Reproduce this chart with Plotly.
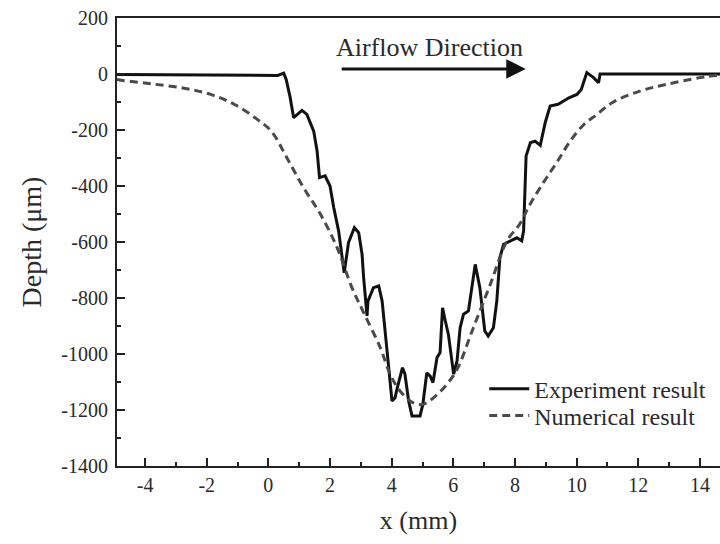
import plotly.graph_objects as go

# ---- data ----
exp_x = [-4.91, 0.0, 0.3, 0.5, 0.58, 0.7, 0.82, 1.09, 1.25, 1.47, 1.58, 1.66, 1.84, 2.0, 2.12,
         2.28, 2.38, 2.46, 2.6, 2.79, 2.93, 3.04, 3.09, 3.2, 3.23, 3.41, 3.58, 3.69, 3.85, 4.01,
         4.11, 4.17, 4.35, 4.43, 4.55, 4.66, 4.92, 5.01, 5.14, 5.25, 5.34, 5.47, 5.57, 5.65,
         5.74, 5.84, 6.01, 6.12, 6.22, 6.33, 6.49, 6.71, 6.86, 7.02, 7.13, 7.3, 7.41, 7.51,
         7.63, 7.84, 8.06, 8.22, 8.28, 8.36, 8.5, 8.65, 8.82, 8.98, 9.14, 9.4, 9.75, 10.01,
         10.15, 10.33, 10.55, 10.71, 10.76, 15.0]
exp_y = [-2, -3, -5, 3, -20, -80, -156, -130, -144, -204, -275, -370, -364, -400, -477,
         -561, -644, -710, -602, -549, -567, -644, -727, -864, -811, -763, -757, -811, -989, -1168,
         -1156, -1126, -1049, -1072, -1168, -1221, -1221, -1180, -1067, -1079, -1102, -1013, -995, -835,
         -882, -930, -1072, -1025, -906, -858, -846, -680, -763, -918, -936, -906, -811, -656,
         -608, -596, -585, -596, -560, -293, -245, -240, -255, -174, -114, -108, -85, -73,
         -55, 5, -13, -31, 0, 0]

num_x = [-4.91, -4.73, -3.81, -2.73, -1.87, -1.11, -0.36, 0.1, 0.6, 1.14, 1.69, 2.23, 2.7,
         3.09, 3.63, 3.95, 4.27, 4.71, 5.0, 5.36, 5.79, 6.12, 6.65, 7.2, 7.74, 8.16, 8.49,
         8.92, 9.36, 9.79, 10.22, 10.65, 11.19, 12.05, 12.92, 14.0, 14.54, 15.0]
num_y = [-20, -23, -35, -51, -73, -108, -162, -205, -299, -406, -501, -620, -760,
         -852, -977, -1072, -1132, -1175, -1180, -1156, -1108, -1055, -906, -751, -596, -535, -465,
         -388, -315, -240, -182, -145, -100, -61, -37, -13, -5, -3]

x_ticks = [-4, -2, 0, 2, 4, 6, 8, 10, 12, 14]
x_tick_text = ["-4", "-2", "0", "2", "4", "6", "8", "10", "12", "14"]
y_ticks = [200, 0, -200, -400, -600, -800, -1000, -1200, -1400]
y_tick_text = ["200", "0", "-200", "-400", "-600", "-800", "-1000", "-1200", "-1400"]

FONT = "Liberation Serif, Times New Roman, serif"
TXT = "#2a2a2a"

fig = go.Figure()
fig.add_trace(go.Scatter(x=exp_x, y=exp_y, mode="lines", name="Experiment result",
                         legend="legend",
                         line=dict(color="#111111", width=3)))
fig.add_trace(go.Scatter(x=num_x, y=num_y, mode="lines", name="Numerical result",
                         legend="legend2",
                         line=dict(color="#4a4a4a", width=3, dash="8px,5px", shape="spline")))

fig.add_annotation(x=8.35, y=18, ax=2.33, ay=18, xref="x", yref="y", axref="x", ayref="y",
                   text="", showarrow=True, arrowhead=2, arrowsize=1.3, arrowwidth=3,
                   arrowcolor="#111111")
fig.add_annotation(x=5.22, y=96, xref="x", yref="y", text="Airflow Direction",
                   showarrow=False, font=dict(family=FONT, size=26, color=TXT))

axis_common = dict(showline=True, linewidth=2, linecolor="#222222", ticks="inside",
                   tickwidth=2, tickcolor="#222222", ticklen=8, showgrid=False,
                   zeroline=False, tickfont=dict(family=FONT, size=20, color=TXT))

fig.update_xaxes(range=[-4.91, 14.65], tickvals=x_ticks, ticktext=x_tick_text,
                 mirror=True,
                 minor=dict(dtick=1, tick0=0, ticks="inside", ticklen=4, tickwidth=2,
                            tickcolor="#222222"),
                 title=dict(text="x (mm)", font=dict(family=FONT, size=26, color=TXT), standoff=16),
                 **axis_common)
fig.update_yaxes(range=[-1400, 200], tickvals=y_ticks, ticktext=y_tick_text,
                 ticklabelstandoff=3,
                 minor=dict(dtick=100, tick0=0, ticks="inside", ticklen=4, tickwidth=2,
                            tickcolor="#222222"),
                 title=dict(text="Depth (μm)", font=dict(family=FONT, size=28, color=TXT), standoff=12),
                 **axis_common)

leg_common = dict(xanchor="left", yanchor="top", bgcolor="rgba(0,0,0,0)",
                  font=dict(family=FONT, size=24, color=TXT), itemwidth=40)
fig.update_layout(width=720, height=544, margin=dict(l=117, r=0, t=18, b=78),
                  paper_bgcolor="white", plot_bgcolor="white",
                  showlegend=True,
                  legend=dict(x=0.609, y=0.222, **leg_common),
                  legend2=dict(x=0.609, y=0.162, **leg_common))

fig.write_html("out.html")
